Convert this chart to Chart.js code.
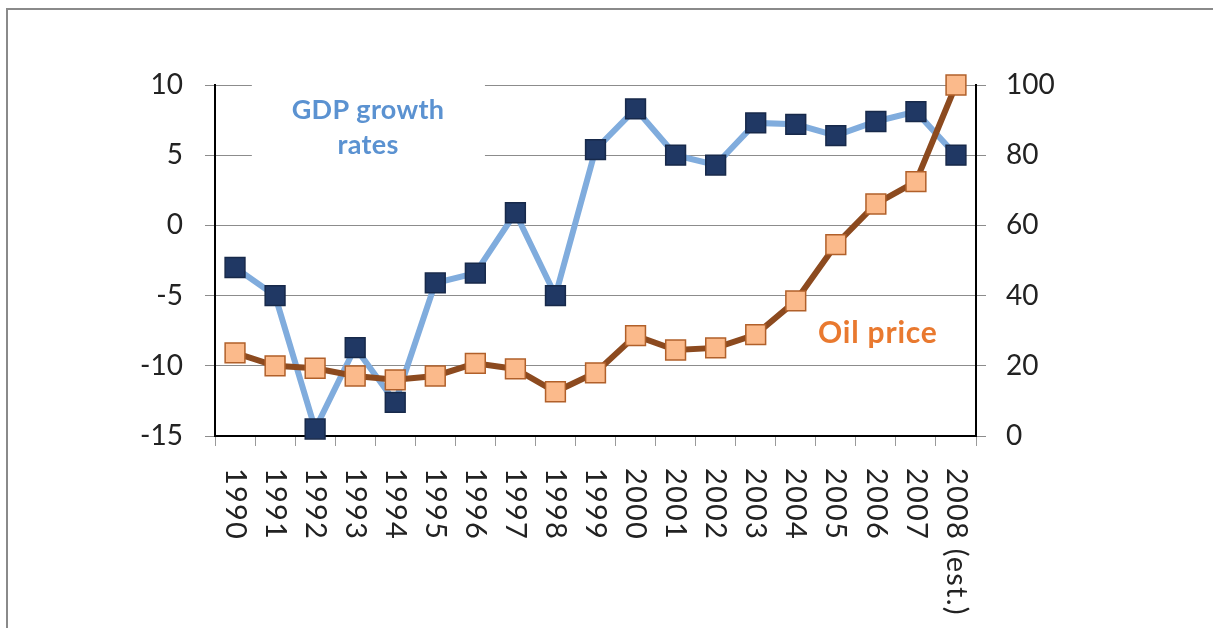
<!DOCTYPE html>
<html>
<head>
<meta charset="utf-8">
<script src="https://cdn.jsdelivr.net/npm/chart.js@4/dist/chart.umd.min.js"></script>
<style>
    html, body { margin: 0; padding: 0; background: #fff; overflow: hidden; }
    #frame { position: absolute; left: 6px; top: 8px; width: 1240px; height: 660px; border: 2px solid #8a8a8a; }
    #wrap { position: absolute; left: 0; top: 0; width: 1213px; height: 628px; }
</style>
</head>
<body>
<div id="frame"></div>
<div id="wrap"><canvas id="gdpOilChart"></canvas></div>
<script>
const years = ['1990', '1991', '1992', '1993', '1994', '1995', '1996', '1997', '1998', '1999',
    '2000', '2001', '2002', '2003', '2004', '2005', '2006', '2007', '2008 (est.)'];
const gdpGrowth = [-3.0, -5.0, -14.5, -8.7, -12.6, -4.1, -3.4, 0.9, -5.0, 5.4,
    8.3, 5.0, 4.3, 7.3, 7.2, 6.4, 7.4, 8.1, 5.0];
const oilPrice = [23.7, 20.0, 19.3, 17.1, 16.0, 17.1, 20.7, 19.1, 12.6, 18.0,
    28.6, 24.5, 25.1, 28.9, 38.5, 54.5, 66.1, 72.5, 100];
const leftTicks = [-15, 10, 5];   // min, max, step
const rightTicks = [0, 100, 20];

const FONT = 'Lato, "Noto Sans", sans-serif';

// x labels read top to bottom, so they are drawn by hand
const verticalLabels = {
    id: 'verticalLabels',
    afterDraw(chart) {
        const ctx = chart.ctx;
        const x = chart.scales.x;
        ctx.save();
        ctx.fillStyle = '#222';
        ctx.font = '29px ' + FONT;
        ctx.letterSpacing = '1.2px';
        ctx.textAlign = 'left';
        ctx.textBaseline = 'middle';
        years.forEach((label, i) => {
            ctx.save();
            ctx.translate(x.getPixelForValue(i), chart.chartArea.bottom + 32);
            ctx.rotate(Math.PI / 2);
            ctx.fillText(label, 0, 0);
            ctx.restore();
        });
        ctx.restore();
    }
};

const seriesNames = {
    id: 'seriesNames',
    beforeDatasetsDraw(chart) {
        const { ctx, scales } = chart;
        const x = scales.x, yl = scales.yleft, yr = scales.yright;
        // white box behind the GDP name hides the gridlines
        const bx0 = x.getPixelForValue(0.42), bx1 = x.getPixelForValue(6.24);
        const by0 = yl.getPixelForValue(10.5), by1 = yl.getPixelForValue(4.4);
        ctx.save();
        ctx.fillStyle = '#fff';
        ctx.fillRect(bx0, by0, bx1 - bx0, by1 - by0);
        ctx.fillStyle = '#5b92d1';
        ctx.font = 'bold 27px ' + FONT;
        ctx.letterSpacing = '0.3px';
        ctx.textAlign = 'center';
        ctx.textBaseline = 'middle';
        const cx = x.getPixelForValue(3.32), cy = yl.getPixelForValue(7.0);
        ctx.fillText('GDP growth', cx, cy - 17);
        ctx.fillText('rates', cx, cy + 18);
        ctx.fillStyle = '#e9792f';
        ctx.font = 'bold 30px ' + FONT;
        ctx.letterSpacing = '0.8px';
        ctx.fillText('Oil price', x.getPixelForValue(16.05), yr.getPixelForValue(29.3));
        ctx.restore();
    }
};

new Chart(document.getElementById('gdpOilChart'), {
    type: 'line',
    data: {
        labels: years,
        datasets: [
            {
                label: 'Oil price',
                data: oilPrice,
                yAxisID: 'yright',
                borderColor: '#8c4a1f',
                borderWidth: 6,
                pointStyle: 'rect',
                pointRadius: 14,
                pointHoverRadius: 14,
                pointBackgroundColor: '#fbba8b',
                pointBorderColor: '#b1602a',
                pointBorderWidth: 1.5,
                tension: 0,
                clip: false
            },
            {
                label: 'GDP growth rates',
                data: gdpGrowth,
                yAxisID: 'yleft',
                borderColor: '#80acdd',
                borderWidth: 6,
                pointStyle: 'rect',
                pointRadius: 14,
                pointHoverRadius: 14,
                pointBackgroundColor: '#203864',
                pointBorderColor: '#17294a',
                pointBorderWidth: 1.5,
                tension: 0,
                clip: false
            }
        ]
    },
    options: {
        responsive: true,
        maintainAspectRatio: false,
        animation: false,
        layout: { padding: { top: 85, left: 0, right: 0, bottom: 0 } },
        plugins: {
            legend: { display: false },
            tooltip: { enabled: false }
        },
        scales: {
            x: {
                offset: true,
                grid: {
                    offset: true,
                    drawOnChartArea: false,
                    drawTicks: true,
                    tickLength: 10,
                    tickColor: '#9a9a9a'
                },
                border: { color: '#000', width: 2 },
                ticks: { display: false },
                afterFit: scale => { scale.height = 192; }
            },
            yleft: {
                position: 'left',
                min: leftTicks[0],
                max: leftTicks[1],
                ticks: {
                    stepSize: leftTicks[2],
                    color: '#222',
                    font: { family: FONT, size: 28 },
                    padding: 22
                },
                grid: { color: '#8c8c8c', tickLength: 10, tickColor: '#8c8c8c' },
                border: { color: '#000', width: 2 },
                afterFit: scale => { scale.width = 215; }
            },
            yright: {
                position: 'right',
                min: rightTicks[0],
                max: rightTicks[1],
                ticks: {
                    stepSize: rightTicks[2],
                    color: '#222',
                    font: { family: FONT, size: 28 },
                    padding: 20
                },
                grid: { drawOnChartArea: false, tickLength: 10, tickColor: '#8c8c8c' },
                border: { color: '#000', width: 2 },
                afterFit: scale => { scale.width = 237; }
            }
        }
    },
    plugins: [seriesNames, verticalLabels]
});
</script>
</body>
</html>
